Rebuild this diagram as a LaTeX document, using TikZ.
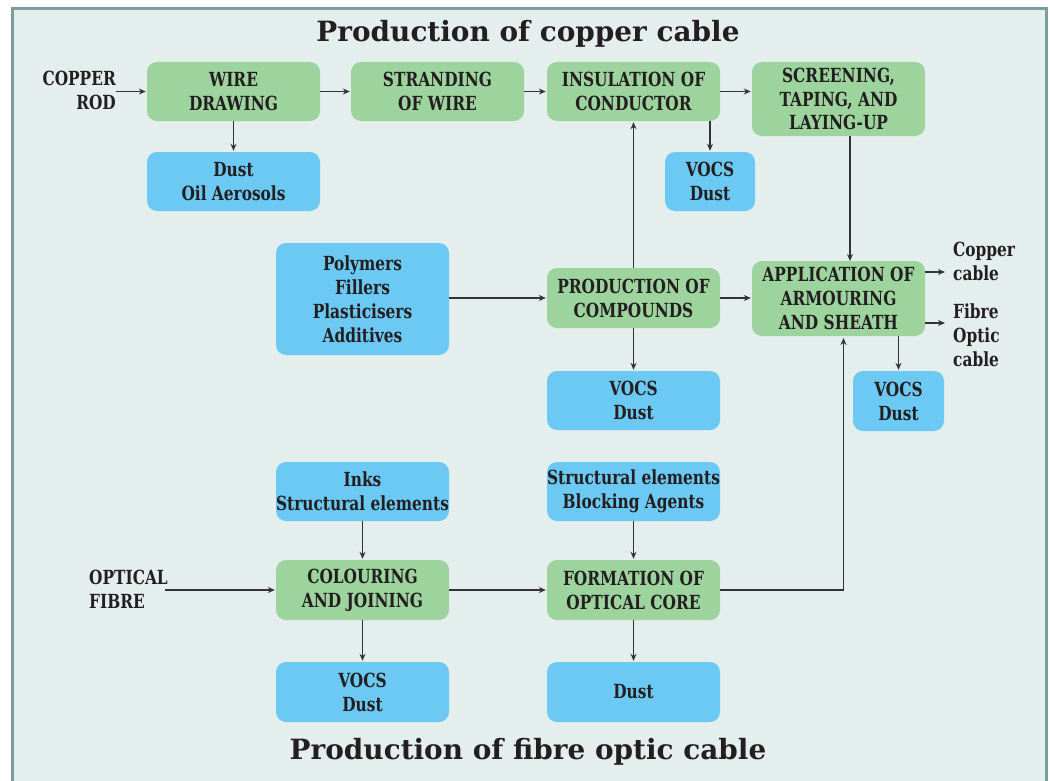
\documentclass[tikz,border=0pt]{standalone}
\usepackage{fontspec}
\newfontfamily\boxfont[FakeStretch=0.88]{DejaVu Serif Condensed}
\newfontfamily\ttlfont{DejaVu Serif}
\usetikzlibrary{arrows.meta}
\definecolor{bgc}{HTML}{E4EEED}
\definecolor{framec}{HTML}{7A9E9E}
\definecolor{gfill}{HTML}{9DD39D}
\definecolor{bfill}{HTML}{6CC9F3}
\definecolor{txt}{HTML}{231F20}
\definecolor{linec}{HTML}{333333}
\tikzset{
  procbox/.style={rounded corners=10bp, minimum width=173bp, align=center, inner sep=0pt,
    font=\boxfont\bfseries\fontsize{19.5}{24}\selectfont, text=txt},
  gbox/.style={procbox, fill=gfill},
  bbox/.style={procbox, fill=bfill},
  lbl/.style={inner sep=0pt, font=\boxfont\bfseries\fontsize{19.5}{24}\selectfont, text=txt},
  arr/.style={draw=linec, line width=1.2bp, -{Stealth[length=7bp,width=6bp]}, shorten >=1bp},
  ttl/.style={inner sep=0pt, font=\ttlfont\bfseries\fontsize{28}{34}\selectfont, text=txt}
}
\begin{document}
\begin{tikzpicture}[x=1bp,y=-1bp]
\path[use as bounding box] (0,0) rectangle (1050,781);
\fill[white] (0,0) rectangle (1050,781);
\begin{scope}
\clip (0,0) rectangle (1050,781);
\draw[fill=bgc, draw=framec, line width=3bp] (12,9) rectangle (1046,800);
\end{scope}

\node[ttl] (t1) at (528,34) {Production of copper cable};
\node[ttl] (t2) at (528,752) {Production of fibre optic cable};

\node[gbox, minimum height=59bp] (wire) at (233.5,91.5) {WIRE\\DRAWING};
\node[gbox, minimum height=59bp] (strand) at (437.5,91.5) {STRANDING\\OF WIRE};
\node[gbox, minimum height=59bp] (insul) at (633.5,91.5) {INSULATION OF\\CONDUCTOR};
\node[gbox, minimum height=74bp] (screen) at (838.5,99) {SCREENING,\\TAPING, AND\\LAYING-UP};
\node[bbox, minimum height=59bp] (dust1) at (233.5,181.5) {Dust\\Oil Aerosols};
\node[bbox, minimum height=59bp, minimum width=90bp] (vocs1) at (710,181.5) {VOCS\\Dust};
\node[bbox, minimum height=112bp] (poly) at (362.5,299) {Polymers\\Fillers\\Plasticisers\\Additives};
\node[gbox, minimum height=60bp] (comp) at (633.5,298) {PRODUCTION OF\\COMPOUNDS};
\node[gbox, minimum height=75bp] (appl) at (838.5,298.5) {APPLICATION OF\\ARMOURING\\AND SHEATH};
\node[bbox, minimum height=59bp] (vocs2) at (633.5,400.5) {VOCS\\Dust};
\node[bbox, minimum height=60bp, minimum width=91bp] (vocs3) at (898.5,401) {VOCS\\Dust};
\node[bbox, minimum height=59bp] (inks) at (362.5,491.5) {Inks\\Structural elements};
\node[bbox, minimum height=59bp] (struct) at (633.5,491.5) {Structural elements\\Blocking Agents};
\node[gbox, minimum height=60bp] (colour) at (362.5,590) {COLOURING\\AND JOINING};
\node[gbox, minimum height=60bp] (form) at (633.5,590) {FORMATION OF\\OPTICAL CORE};
\node[bbox, minimum height=60bp] (vocs4) at (362.5,692) {VOCS\\Dust};
\node[bbox, minimum height=60bp] (dust2) at (633.5,692) {Dust};

\node[lbl, align=right, anchor=east] (rod) at (116,90) {COPPER\\ROD};
\node[lbl, align=left, anchor=west] (fibre) at (89,589) {OPTICAL\\FIBRE};
\node[lbl, align=left, anchor=west] (cc) at (953,261) {Copper\\cable};
\node[lbl, align=left, anchor=west] (foc) at (953,335) {Fibre\\Optic\\cable};

\coordinate (ccend) at (946,272);
\coordinate (focend) at (946,323);
\coordinate (fa) at (843.5,337);
\coordinate (sa) at (850,262);
\coordinate (fibrestart) at (165,590);

\draw[arr] (rod.east |- wire) -- (wire.west);
\draw[arr] (wire) -- (strand);
\draw[arr] (strand) -- (insul);
\draw[arr] (insul) -- (insul -| screen.west);
\draw[arr] (wire) -- (dust1);
\draw[arr] (insul.south -| vocs1.north) -- (vocs1.north);
\draw[arr] (comp) -- (insul);
\draw[arr] (poly.east |- comp) -- (comp.west);
\draw[arr] (comp) -- (comp -| appl.west);
\draw[arr] (screen.south -| sa) -- (sa);
\draw[arr] (appl.east |- ccend) -- (ccend);
\draw[arr] (appl.east |- focend) -- (focend);
\draw[arr] (appl.south -| vocs3.north) -- (vocs3.north);
\draw[arr] (comp) -- (vocs2);
\draw[arr] (form.east) -| (fa);
\draw[arr] (inks) -- (colour);
\draw[arr] (struct) -- (form);
\draw[arr] (fibrestart) -- (colour.west);
\draw[arr] (colour) -- (form);
\draw[arr] (colour) -- (vocs4);
\draw[arr] (form) -- (dust2);
\end{tikzpicture}
\end{document}
